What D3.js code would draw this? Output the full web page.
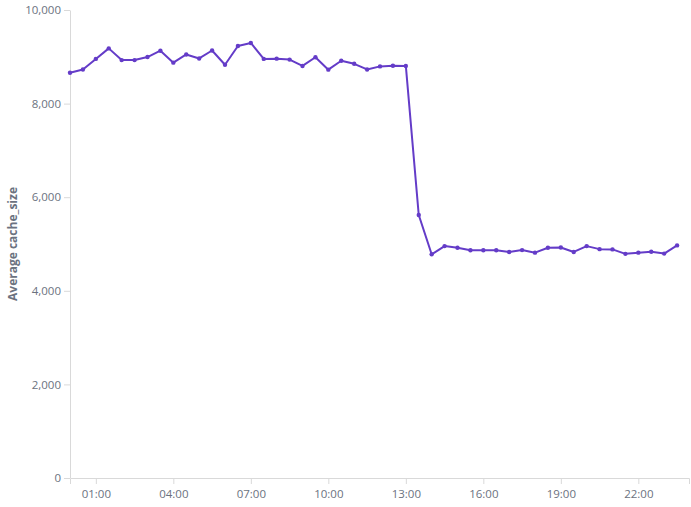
<!DOCTYPE html>
<html>
<head>
<meta charset="utf-8">
<title>Average cache_size</title>
<script src="https://d3js.org/d3.v7.min.js"></script>
<style>
  body { margin: 0; background: #fff; }
  svg { display: block; font-family: "Open Sans", "Noto Sans", sans-serif; }
  .axis { font-family: "Open Sans", "Noto Sans", sans-serif; }
  .axis text { fill: #6b7280; font-size: 11.5px; }
  .axis path, .axis line { stroke: #d9d9d9; }
</style>
</head>
<body>
<svg width="691" height="507"></svg>
<script>
// half-hour buckets, 00:00 .. 23:30
var times = ["00:00","00:30","01:00","01:30","02:00","02:30","03:00","03:30","04:00","04:30",
             "05:00","05:30","06:00","06:30","07:00","07:30","08:00","08:30","09:00","09:30",
             "10:00","10:30","11:00","11:30","12:00","12:30","13:00","13:30","14:00","14:30",
             "15:00","15:30","16:00","16:30","17:00","17:30","18:00","18:30","19:00","19:30",
             "20:00","20:30","21:00","21:30","22:00","22:30","23:00","23:30"];
var cacheSize = [8660, 8730, 8955, 9180, 8930, 8930, 8995, 9130, 8875, 9050,
                 8965, 9135, 8830, 9230, 9295, 8955, 8960, 8940, 8805, 8990,
                 8725, 8915, 8850, 8730, 8795, 8810, 8805, 5620, 4780, 4955,
                 4920, 4865, 4865, 4865, 4830, 4870, 4815, 4920, 4925, 4830,
                 4955, 4890, 4885, 4790, 4815, 4835, 4795, 4970];
var yTicks = [0, 2000, 4000, 6000, 8000, 10000];
var xTicks = ["01:00","04:00","07:00","10:00","13:00","16:00","19:00","22:00"];

var parse = d3.timeParse("%H:%M");
var data = times.map(function(t, i) { return { t: parse(t), v: cacheSize[i] }; });

var svg = d3.select("svg"),
    margin = { top: 10, right: 1, bottom: 29, left: 70 },
    w = +svg.attr("width") - margin.left - margin.right,
    h = +svg.attr("height") - margin.top - margin.bottom;

var x = d3.scaleTime()
    .domain([parse("00:00"), d3.timeDay.offset(parse("00:00"), 1)])
    .range([0, w]);

var y = d3.scaleLinear()
    .domain([0, 10000])
    .range([h, 0]);

var g = svg.append("g")
    .attr("transform", "translate(" + margin.left + "," + margin.top + ")");

var xAxis = g.append("g")
    .attr("class", "axis")
    .attr("transform", "translate(0," + h + ")")
    .call(d3.axisBottom(x)
        .tickValues(xTicks.map(parse))
        .tickFormat(d3.timeFormat("%H:%M"))
        .tickSize(6)
        .tickPadding(6));

// little end ticks at both ends of the x axis
xAxis.select(".domain").attr("d", "M0.5,6V0.5H" + (w - 0.5) + "V6");

g.append("g")
    .attr("class", "axis")
    .call(d3.axisLeft(y)
        .tickValues(yTicks)
        .tickFormat(d3.format(","))
        .tickSize(6)
        .tickPadding(3))
    .select(".domain").attr("d", "M0.5," + h + "V0.5");

g.selectAll(".axis").attr("font-family", null);

g.append("text")
    .attr("transform", "rotate(-90)")
    .attr("x", -h / 2)
    .attr("y", -53)
    .attr("text-anchor", "middle")
    .attr("fill", "#6b7280")
    .attr("font-size", "12px")
    .attr("font-weight", "bold")
    .text("Average cache_size");

var line = d3.line()
    .x(function(d) { return x(d.t); })
    .y(function(d) { return y(d.v); });

g.append("path")
    .datum(data)
    .attr("fill", "none")
    .attr("stroke", "#643cc8")
    .attr("stroke-width", 2)
    .attr("stroke-linejoin", "round")
    .attr("d", line);

g.selectAll(".dot")
    .data(data)
    .enter().append("circle")
    .attr("class", "dot")
    .attr("cx", function(d) { return x(d.t); })
    .attr("cy", function(d) { return y(d.v); })
    .attr("r", 2.2)
    .attr("fill", "#643cc8");
</script>
</body>
</html>
